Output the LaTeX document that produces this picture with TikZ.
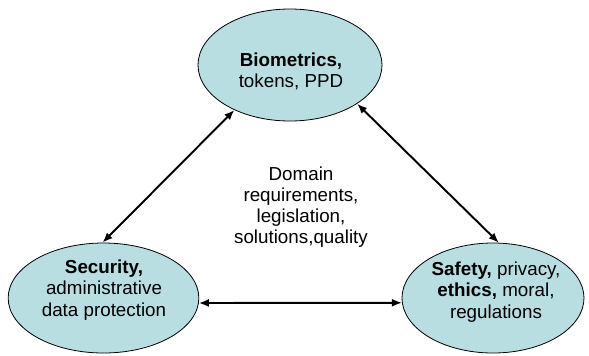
\documentclass[tikz,border=0pt]{standalone}
\usepackage{fontspec}
\setmainfont{Liberation Sans}
\usetikzlibrary{shapes.geometric,arrows.meta}
\definecolor{bubble}{RGB}{185,222,226}
\tikzset{
  bubble/.style={ellipse, draw=black, line width=0.6pt, fill=bubble, inner sep=0pt},
  lbl/.style={align=center, inner sep=0pt, font=\fontsize{14.1pt}{15.9pt}\selectfont},
  link/.style={{Latex[length=7.5pt,width=6pt]}-{Latex[length=7.5pt,width=6pt]}, line width=1.45pt}
}
\begin{document}
\begin{tikzpicture}[x=0.75pt,y=-0.75pt]
\useasboundingbox (0,0) rectangle (589,355);
\node[bubble, minimum width=138pt, minimum height=84pt] (top) at (290,65) {};
\node[bubble, minimum width=143pt, minimum height=82.5pt] (left) at (103.5,298) {};
\node[bubble, minimum width=136.5pt, minimum height=82.5pt] (right) at (493,298) {};
\node[lbl] (toptxt) at (291,71) {\textbf{Biometrics,}\\tokens, PPD};
\node[lbl] (lefttxt) at (104,290) {\textbf{Security,}\\administrative\\data protection};
\node[lbl] (righttxt) at (496,292) {\textbf{Safety,} privacy,\\\textbf{ethics,} moral,\\regulations};
\node[lbl] (mid) at (301,207) {Domain\\requirements,\\legislation,\\solutions,quality};
\draw[link] (top.219) -- (left.91);
\draw[link] (top.330) -- (right.84);
\draw[link] (left.357) -- (right.183);
\end{tikzpicture}
\end{document}
